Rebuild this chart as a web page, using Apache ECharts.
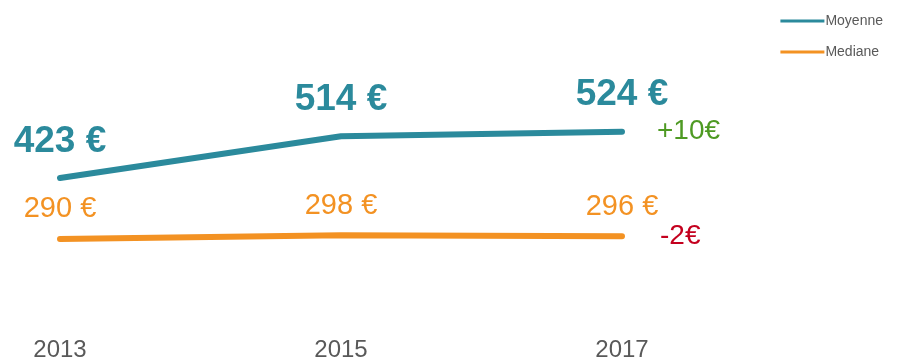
<!DOCTYPE html>
<html>
<head>
<meta charset="utf-8">
<script src="https://cdn.jsdelivr.net/npm/echarts@6/dist/echarts.min.js"></script>
<style>
  html, body { margin: 0; padding: 0; background: #ffffff; }
  #chart { width: 918px; height: 362px; }
</style>
</head>
<body>
<div id="chart"></div>
<script>
// Years on the x axis
const years = ['2013', '2015', '2017'];
// Average and median values, in euros
const moyenne = [423, 514, 524];
const mediane = [290, 298, 296];
const seriesNames = ['Moyenne', 'Mediane'];

const TEAL = '#2B8A9C';
const ORANGE = '#F39223';
const FONT = '"Liberation Sans", Arial, sans-serif';

// Change between the last two surveys, shown after the line end
function diffLabel(values) {
  const d = values[values.length - 1] - values[values.length - 2];
  return (d > 0 ? '+' : '') + d + '€';
}

const chart = echarts.init(document.getElementById('chart'), null, { renderer: 'canvas' });

chart.setOption({
  animation: false,
  backgroundColor: '#ffffff',
  textStyle: { fontFamily: FONT },
  grid: { left: 60, right: 296, top: 74, bottom: 34 },
  legend: {
    orient: 'vertical',
    right: 30,
    top: 9,
    itemWidth: 44,
    itemHeight: 3,
    itemGap: 17,
    icon: 'rect',
    data: seriesNames,
    textStyle: { fontFamily: FONT, fontSize: 14, color: '#595959', padding: [0, 0, 0, -4] }
  },
  xAxis: {
    type: 'category',
    data: years,
    boundaryGap: false,
    axisLine: { show: false },
    axisTick: { show: false },
    axisLabel: { color: '#595959', fontSize: 24, margin: 12, fontFamily: FONT }
  },
  yAxis: {
    type: 'value',
    min: 100,
    max: 650,
    show: false,
    splitLine: { show: false }
  },
  series: [
    {
      name: seriesNames[0],
      type: 'line',
      data: moyenne,
      color: TEAL,
      symbol: 'circle',
      symbolSize: 0,
      showSymbol: true,
      lineStyle: { width: 6, color: TEAL, cap: 'round' },
      label: {
        show: true,
        position: 'top',
        distance: 18,
        color: TEAL,
        fontSize: 37,
        fontWeight: 'bold',
        fontFamily: FONT,
        formatter: p => p.value + ' €'
      },
      endLabel: {
        show: true,
        distance: 35,
        color: '#4E9A23',
        fontSize: 28,
        fontFamily: FONT,
        formatter: () => diffLabel(moyenne)
      }
    },
    {
      name: seriesNames[1],
      type: 'line',
      data: mediane,
      color: ORANGE,
      symbol: 'circle',
      symbolSize: 0,
      showSymbol: true,
      lineStyle: { width: 6, color: ORANGE, cap: 'round' },
      label: {
        show: true,
        position: 'top',
        distance: 15,
        color: ORANGE,
        fontSize: 29,
        fontFamily: FONT,
        formatter: p => p.value + ' €'
      },
      endLabel: {
        show: true,
        distance: 38,
        color: '#C4001E',
        fontSize: 28,
        fontFamily: FONT,
        formatter: () => diffLabel(mediane)
      }
    }
  ]
});
</script>
</body>
</html>
